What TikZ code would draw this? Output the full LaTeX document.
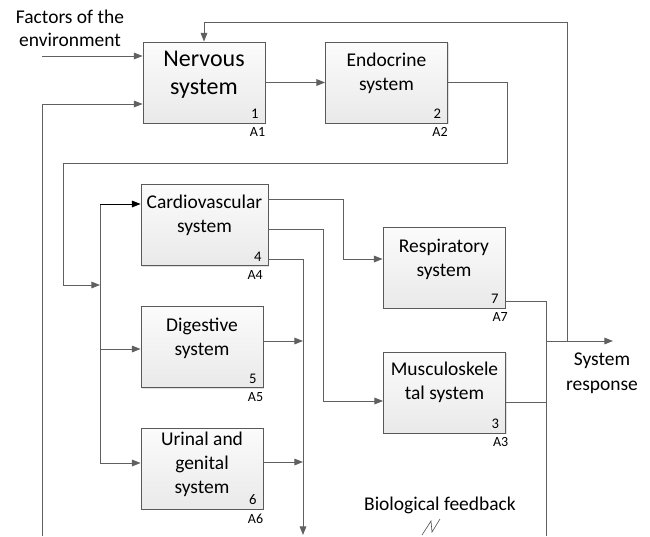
\documentclass[tikz,border=0pt]{standalone}
\usepackage{fontspec}
\setmainfont{Carlito}
\usepackage{tikz}
\usetikzlibrary{arrows.meta, positioning, shadows}

\begin{document}
\begin{tikzpicture}[
    x=0.75pt, y=-0.75pt,
    sysbox/.style={
        draw=gray!70!black,
        top color=gray!3,
        bottom color=gray!17,
        rectangle,
        minimum width=91.5pt,
        minimum height=60.75pt,
        inner sep=0pt,
        line width=0.6pt,
        drop shadow={shadow xshift=1.1pt, shadow yshift=-1.1pt, fill=gray!40, opacity=0.6}
    },
    boxtext/.style={
        anchor=north,
        inner sep=0pt,
        align=center,
        font=\fontsize{14.6}{18}\selectfont
    },
    numtag/.style={
        anchor=south east,
        inner sep=0pt,
        font=\fontsize{11}{13}\selectfont,
        xshift=-5pt,
        yshift=3.2pt
    },
    codetag/.style={
        anchor=north east,
        inner sep=0pt,
        font=\fontsize{10.5}{12}\selectfont,
        yshift=-3pt
    },
    wire/.style={
        draw=gray!75!black,
        line width=0.75pt
    },
    flow/.style={
        wire,
        -{Triangle[length=6.5pt,width=5pt]}
    },
    label/.style={
        inner sep=0pt,
        align=center,
        font=\fontsize{14.6}{17.5}\selectfont
    }
]
\useasboundingbox (0,0) rectangle (650,536);

% boxes
\node[sysbox] (nerv) at (204,82.5) {};
\node[sysbox] (endo) at (386.5,82.5) {};
\node[sysbox, minimum width=95.25pt] (cardio) at (204.5,225) {};
\node[sysbox] (resp) at (444,267.5) {};
\node[sysbox] (dig) at (202,347) {};
\node[sysbox] (uri) at (202,468.5) {};
\node[sysbox] (musc) at (444.5,392.5) {};

\node[boxtext, font=\fontsize{18}{21}\selectfont, yshift=-7pt] (nervtxt) at (nerv.north) {Nervous\\system};
\node[boxtext, yshift=-8.5pt] (endotxt) at (endo.north) {Endocrine\\system};
\node[boxtext, yshift=-7.7pt] (cardiotxt) at (cardio.north) {Cardiovascular\\system};
\node[boxtext, yshift=-9pt] (resptxt) at (resp.north) {Respiratory\\system};
\node[boxtext, yshift=-9pt] (digtxt) at (dig.north) {Digestive\\system};
\node[boxtext, yshift=-3.2pt] (uritxt) at (uri.north) {Urinal and\\genital\\system};
\node[boxtext, yshift=-7.7pt] (musctxt) at (musc.north) {Musculoskele\\tal system};

\node[numtag] (nervnum) at (nerv.south east) {1};
\node[codetag] (nervcode) at (nerv.south east) {A1};
\node[numtag] (endonum) at (endo.south east) {2};
\node[codetag] (endocode) at (endo.south east) {A2};
\node[numtag] (cardionum) at (cardio.south east) {4};
\node[codetag, xshift=-4pt] (cardiocode) at (cardio.south east) {A4};
\node[numtag] (respnum) at (resp.south east) {7};
\node[codetag, xshift=2pt] (respcode) at (resp.south east) {A7};
\node[numtag] (dignum) at (dig.south east) {5};
\node[codetag] (digcode) at (dig.south east) {A5};
\node[numtag] (urinum) at (uri.south east) {6};
\node[codetag] (uricode) at (uri.south east) {A6};
\node[numtag] (muscnum) at (musc.south east) {3};
\node[codetag, xshift=2pt] (musccode) at (musc.south east) {A3};

% free texts
\node[label] (envlbl) at (70,28.5) {Factors of the\\environment};
\node[label, font=\fontsize{14.6}{18.5}\selectfont] (resplbl) at (602,373) {System\\response};
\node[label] (biolbl) at (440,505) {Biological feedback};

% bend points
\coordinate (envin) at (42,56);
\coordinate (fbleft) at (42,536);
\coordinate (fbturn) at (42,104);
\coordinate (resptap) at (567,341);
\coordinate (topright) at (567,22);
\coordinate (endoturn) at (507,163);
\coordinate (loopleft) at (63,163);
\coordinate (busin) at (63,285);
\coordinate (bustop) at (100,204);
\coordinate (busdig) at (100,349);
\coordinate (busbot) at (100,463);
\coordinate (c1a) at (343,199);
\coordinate (c1b) at (343,259);
\coordinate (c2a) at (323,229);
\coordinate (c2b) at (323,401);
\coordinate (c3a) at (303,259);
\coordinate (c3b) at (303,535);
\coordinate (digout) at (303,341);
\coordinate (uriout) at (303,462);
\coordinate (r1) at (546,301);
\coordinate (rbot) at (546,536);
\coordinate (m1) at (546,402);
\coordinate (sysjoin) at (546,341);
\coordinate (sysout) at (613,341);

% connectors
\draw[flow] (envin) -- (envin -| nerv.west);
\draw[flow] (fbleft) -- (fbturn) -- (fbturn -| nerv.west);
\draw[flow] (nerv) -- (endo);
\draw[flow] (resptap) -- (topright) -| (nerv.north);
\draw[flow] (endo.east) -| (endoturn) -- (loopleft) -- (busin) -- (busin -| bustop);
\draw[wire] (bustop) -- (busbot);
\draw[flow, draw=black] (bustop) -- (bustop -| cardio.west);
\draw[flow] (busdig) -- (busdig -| dig.west);
\draw[flow] (busbot) -- (busbot -| uri.west);
\draw[flow] (cardio.east |- c1a) -- (c1a) -- (c1b) -- (c1b -| resp.west);
\draw[flow] (cardio.east |- c2a) -- (c2a) -- (c2b) -- (c2b -| musc.west);
\draw[flow] (cardio.east |- c3a) -- (c3a) -- (c3b);
\draw[flow] (dig.east |- digout) -- (digout);
\draw[flow] (uri.east |- uriout) -- (uriout);
\draw[wire] (resp.east |- r1) -- (r1) -- (rbot);
\draw[wire] (musc.east |- m1) -- (m1);
\draw[flow] (sysjoin) -- (sysout);

% squiggle
\draw[gray!60!black, line width=0.45pt] (422,535) -- (431,521) -- (432,532) -- (440,519);

\end{tikzpicture}
\end{document}
